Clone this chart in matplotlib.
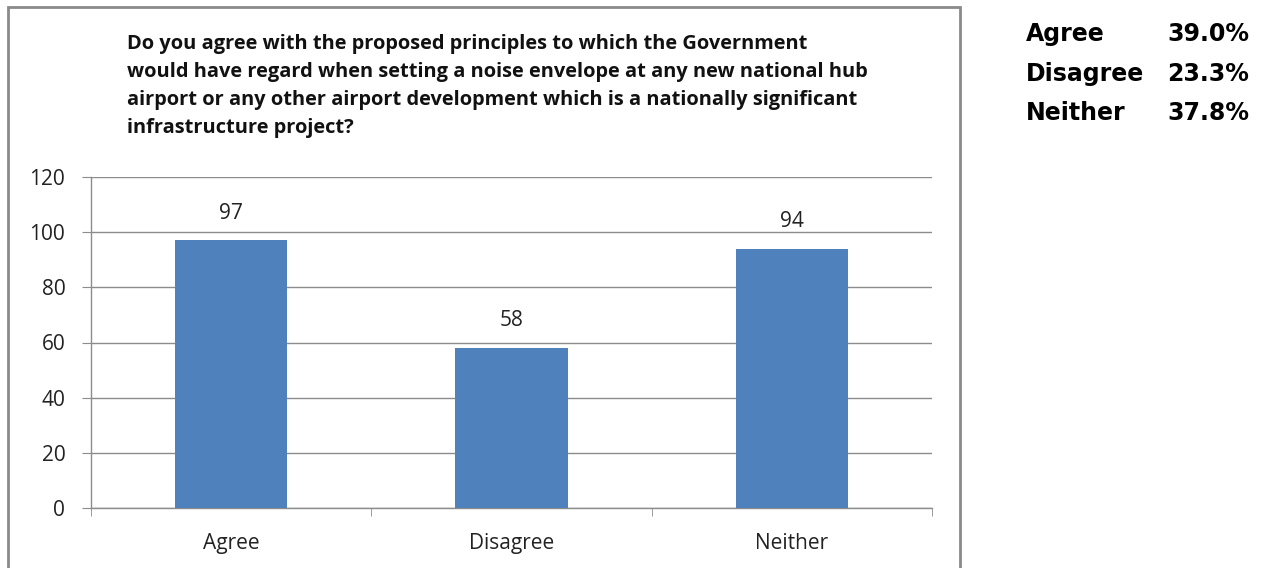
import matplotlib
matplotlib.use("Agg")
import matplotlib.pyplot as plt
from matplotlib.patches import Rectangle

# Survey response counts
categories = ["Agree", "Disagree", "Neither"]
counts = [97, 58, 94]
shares = ["39.0%", "23.3%", "37.8%"]
y_ticks = [0, 20, 40, 60, 80, 100, 120]

question_lines = [
    "Do you agree with the proposed principles to which the Government",
    "would have regard when setting a noise envelope at any new national hub",
    "airport or any other airport development which is a nationally significant",
    "infrastructure project?",
]

W, H = 1263, 568
fig = plt.figure(figsize=(W / 100, H / 100), dpi=100)
fig.patch.set_facecolor("white")

# Outer chart frame
fig.patches.append(Rectangle((8 / W, -0.01), (960 - 8) / W, (H - 7) / H + 0.01,
                             transform=fig.transFigure, fill=False,
                             edgecolor="#8a8a8a", linewidth=2))

chart_font = "Open Sans"
text_col = "#222222"
grid_col = "#8c8c8c"

ax = fig.add_axes([91 / W, (H - 508) / H, (932 - 91) / W, (508 - 177) / H])
x = list(range(len(categories)))
ax.bar(x, counts, width=0.4, color="#4F81BD", zorder=3)
ax.set_xlim(-0.5, len(categories) - 0.5)
ax.set_ylim(0, 120)
ax.set_yticks(y_ticks)
ax.set_xticks(x)
ax.set_xticklabels(categories)
ax.set_xticks([i - 0.5 for i in range(len(categories) + 1)], minor=True)
ax.yaxis.grid(True, color=grid_col, linewidth=1, zorder=0)
ax.set_axisbelow(True)
for s in ["top", "right"]:
    ax.spines[s].set_visible(False)
for s in ["left", "bottom"]:
    ax.spines[s].set_color(grid_col)
    ax.spines[s].set_linewidth(1)
ax.tick_params(axis="y", length=6.5, color=grid_col, labelsize=15, pad=12,
               labelcolor=text_col)
ax.tick_params(axis="x", which="major", length=0, labelsize=15, pad=18,
               labelcolor=text_col)
ax.tick_params(axis="x", which="minor", length=6, color=grid_col)
for lbl in ax.get_xticklabels() + ax.get_yticklabels():
    lbl.set_family(chart_font)

for xi, v in zip(x, counts):
    ax.annotate(str(v), (xi, v), xytext=(0, 12), textcoords="offset points",
                ha="center", va="bottom", fontsize=15, family=chart_font,
                color=text_col)

# Question heading, one baseline per line
for i, line in enumerate(question_lines):
    fig.text(127 / W, 1 - (49 + 28 * i) / H, line, ha="left", va="baseline",
             fontsize=14.4, fontweight="bold", family=chart_font,
             color="#111111")

# Percentage summary
row_base = [41, 81, 120]
for cat, pct, yb in zip(categories, shares, row_base):
    fig.text(1026 / W, 1 - yb / H, cat, ha="left", va="baseline", fontsize=17,
             fontweight="bold", family="DejaVu Sans", color="black")
    fig.text(1249 / W, 1 - yb / H, pct, ha="right", va="baseline", fontsize=17,
             fontweight="bold", family="DejaVu Sans", color="black")

fig.savefig("out.png", dpi=100)
